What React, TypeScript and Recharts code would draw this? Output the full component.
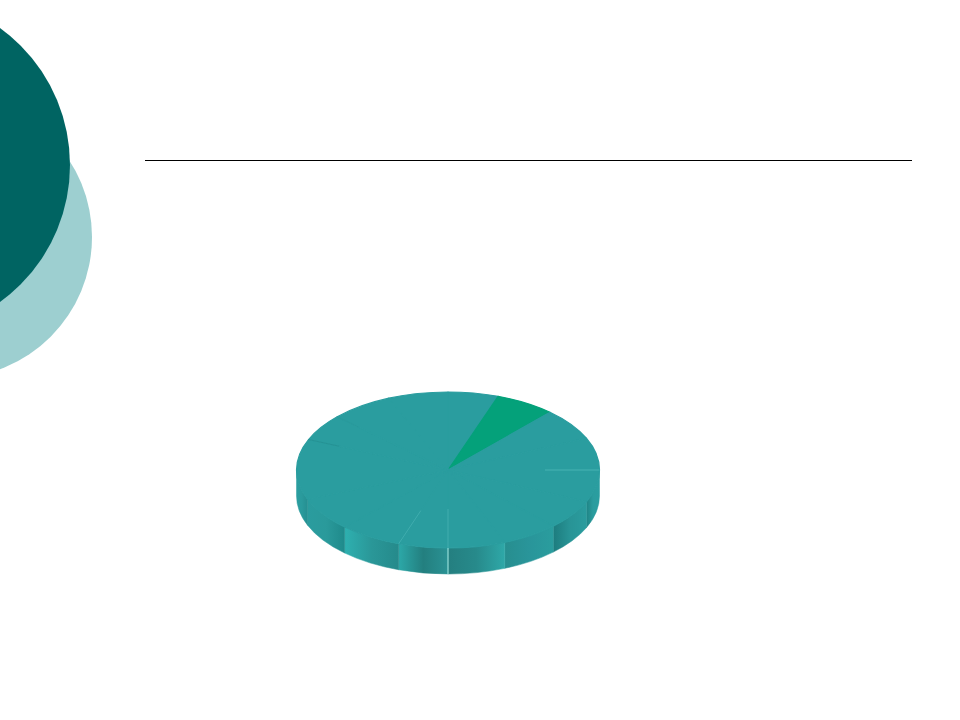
import React from 'react';
import { Cell, Pie, PieChart } from 'recharts';

// slice sizes in degrees, read clockwise from 12 o'clock
const sliceNames = [
  'A', 'B', 'C', 'D', 'E', 'F', 'G', 'H',
  'I', 'J', 'K', 'L', 'M', 'N', 'O', 'P',
];
const sliceValues = [
  19.3, 23, 23.7, 24, 24, 22, 22, 22,
  19, 24, 25, 22, 23, 20, 24, 23,
];
const highlightedSlice = 1;

const chartData = sliceNames.map((name, i) => ({ name, value: sliceValues[i] }));

const TILT = 0.515;
const DEPTH = 26;
const FACE = '#2a9d9f';
const GREEN = '#04a17a';

// faint seams on the pie, keyed by the slice they start
const seams: Record<number, { from: number; color: string; opacity: number }> = {
  4: { from: 0.64, color: '#5fc4c4', opacity: 0.55 },
  8: { from: 0.5, color: '#7fd8d4', opacity: 0.3 },
  9: { from: 0.55, color: '#5fc4c4', opacity: 0.4 },
  13: { from: 0.78, color: '#1f8385', opacity: 0.4 },
  14: { from: 0.8, color: '#1f8385', opacity: 0.15 },
};

// rim shading, left to right, keyed by slice
const rimStops: Record<number, string[]> = {
  4: ['#1f8485', '#2a9c9e', '#2a9ea0'],
  5: ['#1d7c7e', '#289496', '#2a9c9e'],
  6: ['#278e8f', '#29959a', '#2a9d9e'],
  7: ['#247f80', '#278a8b', '#2ea8a8'],
  8: ['#2ca8a8', '#237f7f', '#2a9294'],
  9: ['#2eb0b0', '#2a9798', '#258a8b'],
  10: ['#2a9c9e', '#2a9a9b', '#1f8a8b'],
  11: ['#2a9ea0', '#2a9a9c', '#258f91'],
};

const rad = (a: number) => (a * Math.PI) / 180;

const ElevatedSlice = (props: any) => {
  const { cx, cy, outerRadius: r, startAngle, endAngle, fill, index } = props;
  const ry = r * TILT;
  const pt = (a: number, k = 1, dy = 0) => ({
    x: cx + r * k * Math.cos(rad(a)),
    y: cy - ry * k * Math.sin(rad(a)) + dy,
  });
  const p1 = pt(startAngle);
  const p2 = pt(endAngle);
  const large = startAngle - endAngle > 180 ? 1 : 0;
  const face = `M${cx},${cy} L${p1.x},${p1.y} A${r},${ry} 0 ${large} 1 ${p2.x},${p2.y} Z`;

  // the rim only shows on the front half, angles 0 to -180
  const rimStart = Math.min(startAngle, 0);
  const rimEnd = Math.max(endAngle, -180);
  const hasRim = rimStart > rimEnd;
  const gradId = `rim-${index}`;
  let rim = '';
  if (hasRim) {
    const a = pt(rimStart);
    const b = pt(rimEnd);
    const c = pt(rimEnd, 1, DEPTH);
    const d = pt(rimStart, 1, DEPTH);
    rim = `M${a.x},${a.y} A${r},${ry} 0 0 1 ${b.x},${b.y} L${c.x},${c.y} A${r},${ry} 0 0 0 ${d.x},${d.y} Z`;
  }
  const stops = rimStops[index];
  const seam = seams[index];
  const seamFrom = seam ? pt(startAngle, seam.from) : null;
  const rimSeamTop = pt(startAngle);
  const rimSeamBottom = pt(startAngle, 1, DEPTH);

  return (
    <g>
      {hasRim && stops && (
        <>
          <defs>
            <linearGradient id={gradId} x1='0' x2='1' y1='0' y2='0'>
              <stop offset='0%' stopColor={stops[0]} />
              <stop offset='50%' stopColor={stops[1]} />
              <stop offset='100%' stopColor={stops[2]} />
            </linearGradient>
          </defs>
          <path d={rim} fill={`url(#${gradId})`} stroke={`url(#${gradId})`} strokeWidth={0.5} />
        </>
      )}
      <path d={face} fill={fill} stroke={fill} strokeWidth={1.2} strokeLinejoin='round' />
      {seam && seamFrom && (
        <line
          x1={seamFrom.x}
          y1={seamFrom.y}
          x2={p1.x}
          y2={p1.y}
          stroke={seam.color}
          strokeOpacity={seam.opacity}
          strokeWidth={1}
        />
      )}
      {index === 8 && (
        <line
          x1={rimSeamTop.x}
          y1={rimSeamTop.y}
          x2={rimSeamBottom.x}
          y2={rimSeamBottom.y}
          stroke='#a8ece6'
          strokeWidth={1}
        />
      )}
    </g>
  );
};

const App = () => {
  return (
    <div
      style={{
        position: 'absolute',
        left: 0,
        top: 0,
        width: 960,
        height: 720,
        background: '#fff',
        overflow: 'hidden',
      }}
    >
      <svg width={960} height={720} style={{ position: 'absolute', left: 0, top: 0 }}>
        <circle cx={-49} cy={237} r={141} fill='#9dcfd0' />
        <circle cx={-99} cy={165} r={169} fill='#006462' />
        <line x1={145} y1={160.5} x2={912} y2={160.5} stroke='#000' strokeWidth={1} />
      </svg>
      <div style={{ position: 'absolute', left: 0, top: 0 }}>
        <PieChart width={960} height={720} margin={{ top: 0, right: 0, bottom: 0, left: 0 }}>
          <Pie
            data={chartData}
            dataKey='value'
            nameKey='name'
            cx={448}
            cy={470}
            outerRadius={151.5}
            startAngle={90}
            endAngle={-270}
            paddingAngle={0}
            stroke='none'
            label={false}
            labelLine={false}
            shape={ElevatedSlice}
            isAnimationActive={false}
          >
            {chartData.map((d, i) => (
              <Cell key={d.name} fill={i === highlightedSlice ? GREEN : FACE} />
            ))}
          </Pie>
        </PieChart>
      </div>
    </div>
  );
};

export default App;
